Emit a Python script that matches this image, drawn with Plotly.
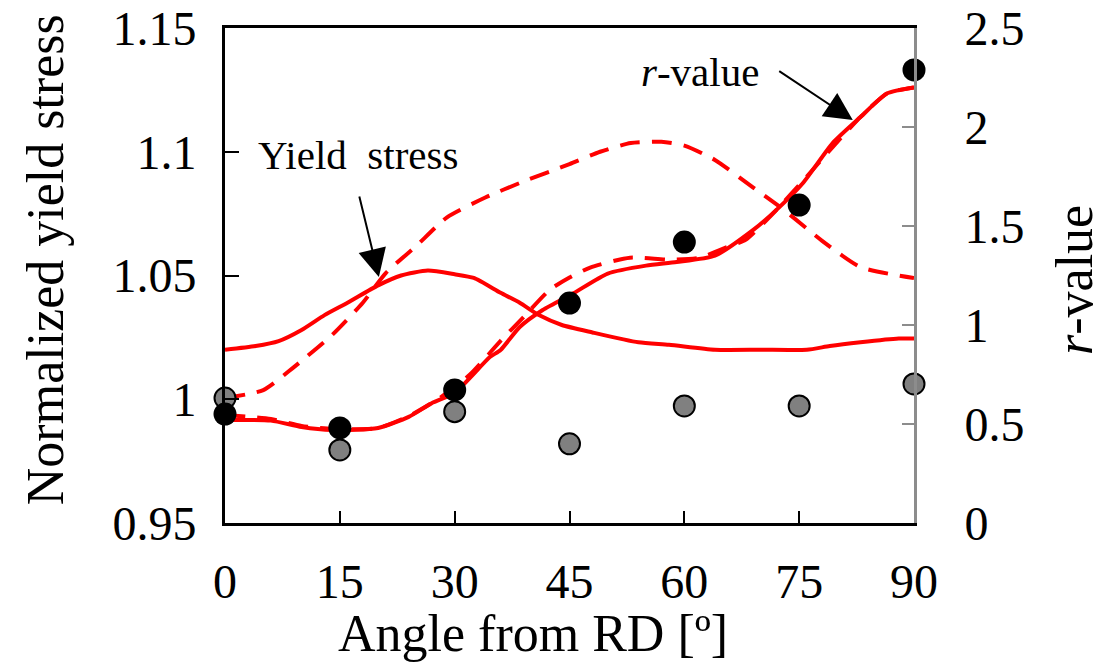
import plotly.graph_objects as go

# Measured points at the test angles
angles = [0, 15, 30, 45, 60, 75, 90]
ys_measured = [1.0005, 0.9795, 0.995, 0.982, 0.9973, 0.9973, 1.0062]
r_measured = [0.55, 0.48, 0.672, 1.111, 1.419, 1.606, 2.288]

# Predicted normalized yield stress, solid model
ys_solid_ang = [0, 4, 7, 10, 13, 16, 20, 23, 26.5, 30, 32.5, 36, 38.5, 41, 44, 48, 54, 58, 64, 70, 76, 79, 83, 88, 90]
ys_solid = [1.020, 1.0215, 1.0235, 1.028, 1.034, 1.039, 1.046, 1.050, 1.052, 1.0505, 1.049, 1.043,
            1.039, 1.034, 1.030, 1.027, 1.023, 1.022, 1.020, 1.020, 1.020, 1.0215, 1.023, 1.0245, 1.0245]

# Predicted normalized yield stress, dashed model
ys_dash_ang = [0, 5, 9, 14, 18, 21, 25, 29, 34, 39, 45, 49, 53, 57, 60, 64, 69, 73, 78, 83, 90]
ys_dash = [1.0005, 1.0037, 1.013, 1.026, 1.039, 1.051, 1.062, 1.0735, 1.0815, 1.088, 1.095, 1.100,
           1.1035, 1.104, 1.1025, 1.0967, 1.0855, 1.0765, 1.064, 1.0534, 1.049]

# Predicted r-value, solid model
r_solid_ang = [0, 6, 10, 14, 20, 24, 27, 30, 34.6, 36, 38.5, 41.5, 45.5, 50, 55, 59, 64, 69, 72, 75.5, 79.4, 83, 86.5, 90]
r_solid = [0.52, 0.517, 0.485, 0.47, 0.48, 0.536, 0.605, 0.657, 0.838, 0.874, 0.99, 1.076, 1.16,
           1.26, 1.30, 1.318, 1.35, 1.48, 1.58, 1.717, 1.92, 2.05, 2.17, 2.20]

# Predicted r-value, dashed model
r_dash_ang = [0, 6, 10, 14, 20, 24, 28, 32, 36, 39, 42.4, 45, 47.7, 52.9, 58, 62, 66, 68, 72, 76, 79.4, 83, 86.5, 90]
r_dash = [0.545, 0.525, 0.49, 0.475, 0.48, 0.54, 0.63, 0.75, 0.92, 1.04, 1.177, 1.24, 1.29, 1.34,
          1.33, 1.34, 1.40, 1.43, 1.58, 1.75, 1.90, 2.05, 2.17, 2.20]

x_ticks = [0, 15, 30, 45, 60, 75, 90]
y_ticks = [0.95, 1.0, 1.05, 1.1, 1.15]
y_tick_text = ["0.95", "1", "1.05", "1.1", "1.15"]
r_ticks = [0, 0.5, 1.0, 1.5, 2.0, 2.5]
r_tick_text = ["0", "0.5", "1", "1.5", "2", "2.5"]

RED = "#FF0000"
FONT = "Liberation Serif, Times New Roman, serif"
GRAY_AXIS = "#8C8C8C"

fig = go.Figure()

line_common = dict(mode="lines", hoverinfo="skip", showlegend=False)
fig.add_trace(go.Scatter(x=ys_solid_ang, y=ys_solid, line=dict(color=RED, width=4, shape="spline", smoothing=0.6), yaxis="y", **line_common))
fig.add_trace(go.Scatter(x=ys_dash_ang, y=ys_dash, line=dict(color=RED, width=4, dash="20px,12px", shape="spline", smoothing=0.6), yaxis="y", **line_common))
fig.add_trace(go.Scatter(x=angles, y=ys_measured, mode="markers", showlegend=False, cliponaxis=False,
                         marker=dict(size=21, color="#808080", line=dict(color="black", width=2)), yaxis="y"))
fig.add_trace(go.Scatter(x=r_solid_ang, y=r_solid, line=dict(color=RED, width=4, shape="spline", smoothing=0.6), yaxis="y2", **line_common))
fig.add_trace(go.Scatter(x=r_dash_ang, y=r_dash, line=dict(color=RED, width=4, dash="20px,12px", shape="spline", smoothing=0.6), yaxis="y2", **line_common))
fig.add_trace(go.Scatter(x=angles, y=r_measured, mode="markers", showlegend=False, cliponaxis=False,
                         marker=dict(size=23, color="black"), yaxis="y2"))

tick_font = dict(family=FONT, size=48, color="black")
title_font = dict(family=FONT, size=52, color="black")
note_font = dict(family=FONT, size=41, color="black")

fig.update_layout(
    width=1109, height=664,
    margin=dict(l=225, r=195, t=28, b=141, autoexpand=False),
    paper_bgcolor="white", plot_bgcolor="white",
    showlegend=False,
    font=dict(family=FONT),
    xaxis=dict(range=[0, 90], tickvals=x_ticks, ticks="inside", ticklen=12, tickwidth=2,
               tickcolor="black", showline=True, linecolor="black", linewidth=3, mirror=True,
               showgrid=False, zeroline=False, tickfont=tick_font, ticklabelstandoff=14,
               automargin=False),
    yaxis=dict(range=[0.95, 1.15], tickvals=y_ticks, ticktext=y_tick_text, ticks="inside",
               ticklen=14, tickwidth=2, tickcolor="black", showline=True, linecolor="black",
               linewidth=3, showgrid=False, zeroline=False, tickfont=tick_font, ticklabelstandoff=16,
               automargin=False),
    yaxis2=dict(range=[0, 2.5], tickvals=r_ticks, ticktext=r_tick_text, overlaying="y", side="right",
                ticks="inside", ticklen=12, tickwidth=2, tickcolor=GRAY_AXIS, showline=True,
                linecolor=GRAY_AXIS, linewidth=3, showgrid=False, zeroline=False, tickfont=tick_font,
                ticklabelstandoff=38, automargin=False),
)

annotations = [
    # axis titles
    dict(text="Normalized yield stress", xref="paper", yref="paper", x=-0.2612, y=0.531,
         textangle=-90, showarrow=False, font=title_font, xanchor="center", yanchor="middle"),
    dict(text="<i>r</i>-value", xref="paper", yref="paper", x=1.2337, y=0.491,
         textangle=-90, showarrow=False, font=title_font, xanchor="center", yanchor="middle"),
    dict(text="Angle from RD [º]", xref="paper", yref="paper", x=0.447, y=-0.224,
         showarrow=False, font=title_font, xanchor="center", yanchor="middle"),
    # curve labels
    dict(text="Yield&nbsp;&nbsp;stress", xref="x", yref="y", x=17.4, y=1.0987, showarrow=False,
         font=note_font, xanchor="center", yanchor="middle"),
    dict(text="<i>r</i>-value", xref="x", yref="y", x=62.0, y=1.1322, showarrow=False,
         font=note_font, xanchor="center", yanchor="middle"),
    # arrows
    dict(text="", xref="x", yref="y", x=20.1, y=1.0494, axref="x", ayref="y", ax=17.5, ay=1.0825,
         showarrow=True, arrowhead=2, arrowsize=2.8, arrowwidth=2, arrowcolor="black"),
    dict(text="", xref="x", yref="y", x=82.0, y=1.1128, axref="x", ayref="y", ax=72.2, ay=1.133,
         showarrow=True, arrowhead=2, arrowsize=2.8, arrowwidth=2, arrowcolor="black"),
]
fig.update_layout(annotations=annotations)

fig.write_html("out.html")
